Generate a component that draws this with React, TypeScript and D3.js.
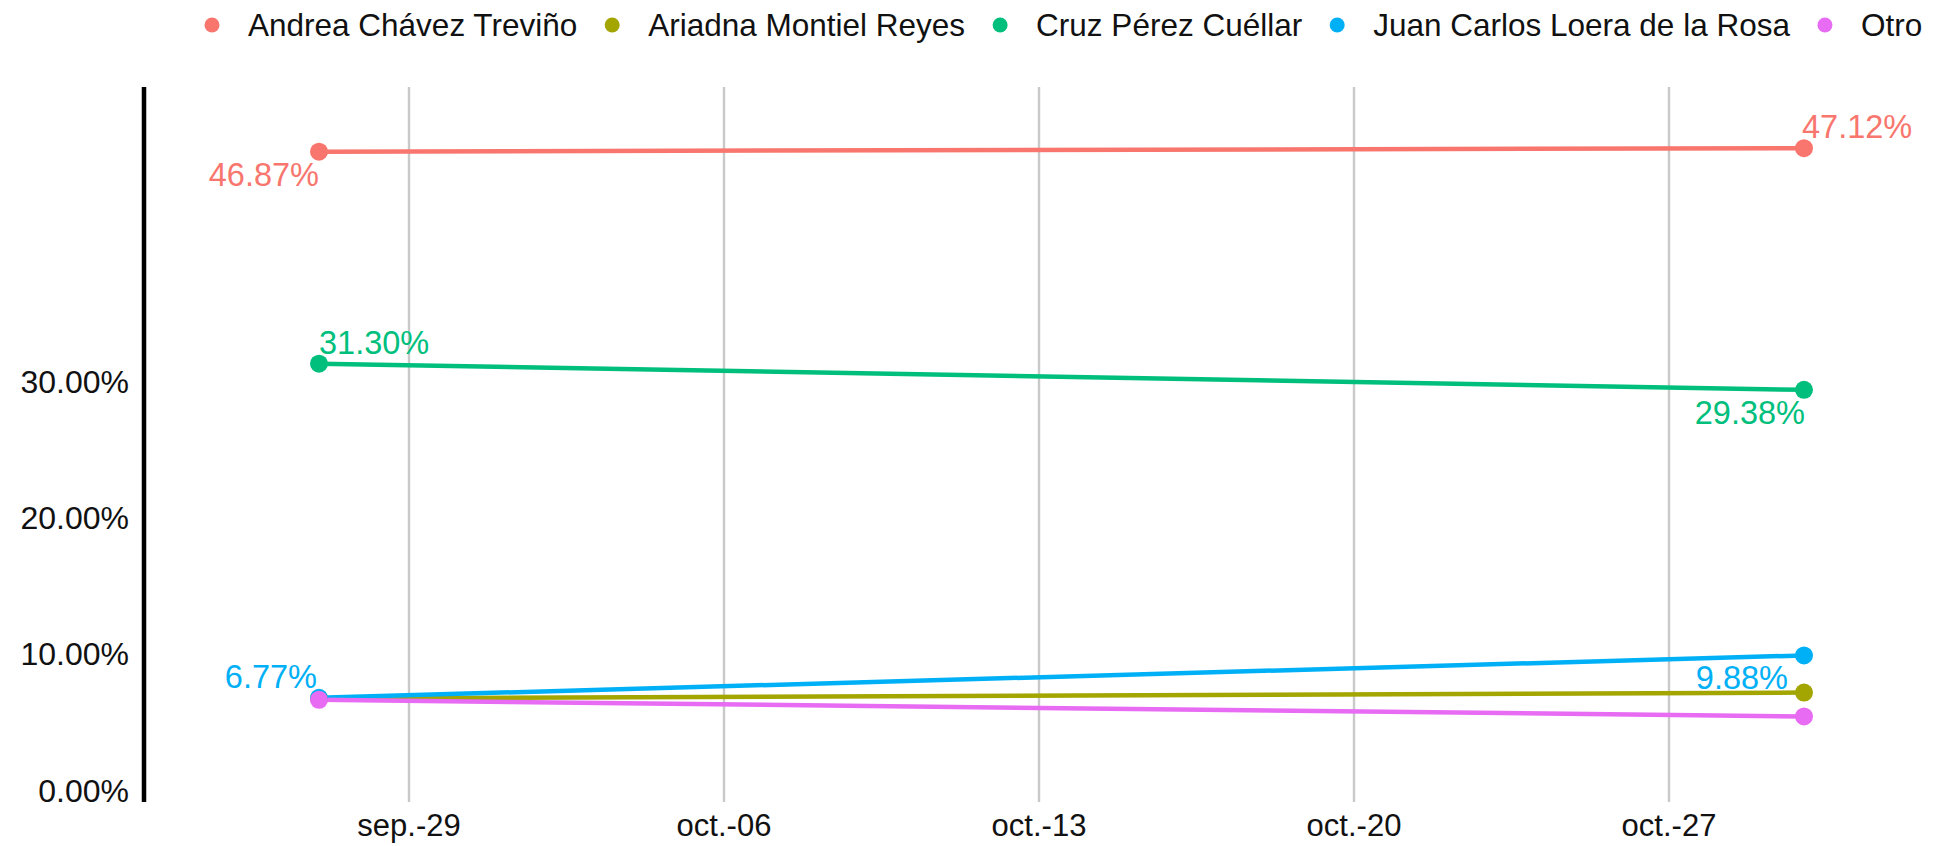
import * as d3 from "d3";
import React, { useEffect, useRef } from "react";

// Fechas de las dos mediciones.
const dates = ["2024-09-27", "2024-10-30"];

const candidates = [
  "Andrea Chávez Treviño",
  "Ariadna Montiel Reyes",
  "Cruz Pérez Cuéllar",
  "Juan Carlos Loera de la Rosa",
  "Otro",
];

const andrea = [46.87, 47.12];
const ariadna = [6.72, 7.15];
const cruz = [31.3, 29.38];
const juan = [6.77, 9.88];
const otro = [6.62, 5.4];

const colors = ["#F8766D", "#A3A500", "#00BF7D", "#00B0F6", "#E76BF3"];

const yTicks = [0, 10, 20, 30];
const yTickLabels = ["0.00%", "10.00%", "20.00%", "30.00%"];

const xTickDates = ["2024-09-29", "2024-10-06", "2024-10-13", "2024-10-20", "2024-10-27"];
const xTickLabels = ["sep.-29", "oct.-06", "oct.-13", "oct.-20", "oct.-27"];

// Qué puntos llevan etiqueta y hacia dónde se acomoda (como lo hizo ggrepel).
const labelPlacement = {
  "Andrea Chávez Treviño": [
    { anchor: "end", pos: "below", dx: 0 },
    { anchor: "start", pos: "above", dx: -2 },
  ],
  "Cruz Pérez Cuéllar": [
    { anchor: "start", pos: "above", dx: 0 },
    { anchor: "end", pos: "below", dx: 1 },
  ],
  "Juan Carlos Loera de la Rosa": [
    { anchor: "end", pos: "above", dx: -2 },
    { anchor: "end", pos: "below", dx: -16 },
  ],
};

const FONT = "'Liberation Sans', Arial, Helvetica, sans-serif";

export default function App() {
  const ref = useRef(null);
  const width = 1936;
  const height = 846;

  useEffect(() => {
    document.body.style.margin = "0";
    const svg = d3.select(ref.current);
    svg.selectAll("*").remove();

    const values = [andrea, ariadna, cruz, juan, otro];
    const series = candidates.map((name, k) => ({
      name,
      color: colors[k],
      points: dates.map((d, i) => ({ date: new Date(d + "T00:00:00Z"), value: values[k][i] })),
    }));

    const panel = { top: 87, bottom: 802, axisX: 144 };

    const xScale = d3
      .scaleUtc()
      .domain(d3.extent(dates, (d) => new Date(d + "T00:00:00Z")))
      .range([319, 1804]);
    const yScale = d3.scaleLinear().domain([0, 50]).range([790, 109]);

    // Líneas verticales de la rejilla.
    svg
      .append("g")
      .selectAll("line")
      .data(xTickDates)
      .join("line")
      .attr("x1", (d) => xScale(new Date(d + "T00:00:00Z")))
      .attr("x2", (d) => xScale(new Date(d + "T00:00:00Z")))
      .attr("y1", panel.top)
      .attr("y2", panel.bottom)
      .attr("stroke", "#c9c9c9")
      .attr("stroke-width", 2.4);

    // Etiquetas del eje x.
    svg
      .append("g")
      .selectAll("text")
      .data(xTickDates)
      .join("text")
      .attr("x", (d) => xScale(new Date(d + "T00:00:00Z")))
      .attr("y", 836)
      .attr("text-anchor", "middle")
      .style("font-family", FONT)
      .style("font-size", "31px")
      .attr("fill", "#111")
      .text((_, i) => xTickLabels[i]);

    // Eje y: línea y etiquetas.
    svg
      .append("line")
      .attr("x1", panel.axisX)
      .attr("x2", panel.axisX)
      .attr("y1", panel.top)
      .attr("y2", panel.bottom)
      .attr("stroke", "#000")
      .attr("stroke-width", 4.5);

    svg
      .append("g")
      .selectAll("text")
      .data(yTicks)
      .join("text")
      .attr("x", 129)
      .attr("y", (d) => yScale(d))
      .attr("dy", "0.36em")
      .attr("text-anchor", "end")
      .style("font-family", FONT)
      .style("font-size", "32px")
      .attr("fill", "#111")
      .text((_, i) => yTickLabels[i]);

    // Líneas de cada candidato.
    const line = d3
      .line()
      .x((p) => xScale(p.date))
      .y((p) => yScale(p.value));

    svg
      .append("g")
      .selectAll("path")
      .data(series)
      .join("path")
      .attr("d", (s) => line(s.points))
      .attr("fill", "none")
      .attr("stroke", (s) => s.color)
      .attr("stroke-width", 4.5);

    // Puntos.
    series.forEach((s) => {
      svg
        .append("g")
        .selectAll("circle")
        .data(s.points)
        .join("circle")
        .attr("cx", (p) => xScale(p.date))
        .attr("cy", (p) => yScale(p.value))
        .attr("r", 9)
        .attr("fill", s.color);
    });

    // Etiquetas de porcentaje.
    series.forEach((s) => {
      const places = labelPlacement[s.name];
      if (!places) return;
      svg
        .append("g")
        .selectAll("text")
        .data(s.points)
        .join("text")
        .attr("x", (p, i) => xScale(p.date) + places[i].dx)
        .attr("y", (p, i) => yScale(p.value) + (places[i].pos === "above" ? -10 : 34))
        .attr("text-anchor", (_, i) => places[i].anchor)
        .style("font-family", FONT)
        .style("font-size", "32.5px")
        .attr("fill", s.color)
        .text((p) => p.value.toFixed(2) + "%");
    });

    // Leyenda arriba.
    const legend = svg.append("g");
    let cursor = 212;
    series.forEach((s) => {
      legend.append("circle").attr("cx", cursor).attr("cy", 25).attr("r", 7.5).attr("fill", s.color);
      const t = legend
        .append("text")
        .attr("x", cursor + 36)
        .attr("y", 25)
        .attr("dy", "0.36em")
        .style("font-family", FONT)
        .style("font-size", "31.5px")
        .attr("fill", "#111")
        .text(s.name);
      cursor += 36 + t.node().getComputedTextLength() + 35;
    });
  }, []);

  return <svg ref={ref} width={width} height={height} style={{ display: "block", background: "#fff" }}></svg>;
}
